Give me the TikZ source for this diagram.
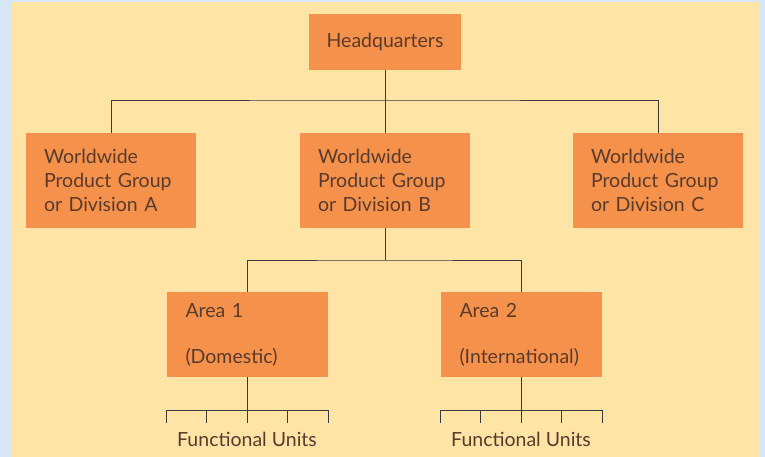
\documentclass[tikz,border=0pt]{standalone}
\usepackage{fontspec}
\setmainfont{Lato}
\definecolor{bgblue}{HTML}{D6E6F6}
\definecolor{panel}{HTML}{FFE4A6}
\definecolor{boxor}{HTML}{F5914B}
\definecolor{txt}{HTML}{5A3B2B}
\definecolor{ln}{HTML}{3A3A3A}
\begin{document}
\begin{tikzpicture}[x=1pt,y=-1pt,
  box/.style={fill=boxor, draw=none, text=txt, font=\fontsize{19.5}{24}\selectfont, inner sep=0pt},
  divbox/.style={box, minimum width=170, minimum height=95, text width=134, inner xsep=18, align=left},
  areabox/.style={box, minimum width=161, minimum height=85, text width=123, inner xsep=19, align=left},
  conn/.style={draw=ln, line width=0.9pt},
  lbl/.style={text=txt, font=\fontsize{19.5}{22}\selectfont, inner sep=0pt}]
\fill[bgblue] (0,0) rectangle (765,457);
\fill[panel] (12,2) rectangle (759,457);
\useasboundingbox (0,0) rectangle (765,457);

\node[box, minimum width=152, minimum height=56] (hq) at (385,42) {Headquarters};
\node[divbox] (da) at (111,180.5) {Worldwide\\Product Group\\or Division A};
\node[divbox] (db) at (385,180.5) {Worldwide\\Product Group\\or Division B};
\node[divbox] (dc) at (658,180.5) {Worldwide\\Product Group\\or Division C};

\coordinate (bar1) at (385,100);
\draw[conn] (da.north) |- (bar1) -| (dc.north);
\draw[conn] (hq.south) -- (db.north);

\node[areabox] (a1) at (247,334.5) {Area 1\\[22pt](Domestic)};
\node[areabox] (a2) at (521,334.5) {Area 2\\[22pt](International)};

\coordinate (bar2) at (385,260);
\draw[conn] (a1.north) |- (bar2) -| (a2.north);
\draw[conn] (db.south) -- (bar2);

\foreach \n/\cx in {1/247,2/521}{
  \coordinate (fl\n) at (\cx-81,410);
  \coordinate (fr\n) at (\cx+81,410);
  \coordinate (fe\n) at (\cx,423);
  \draw[conn] (fl\n) -- (fr\n);
  \draw[conn] (a\n.south) -- (fe\n);
  \foreach \i/\dx in {1/-81,2/-40.5,4/40.5,5/81}{
    \coordinate (ts\n-\i) at (\cx+\dx,410);
    \coordinate (te\n-\i) at (\cx+\dx,423);
    \draw[conn] (ts\n-\i) -- (te\n-\i);
  }
  \node[lbl] (fu\n) at (\cx,439) {Functional Units};
}
\end{tikzpicture}
\end{document}
